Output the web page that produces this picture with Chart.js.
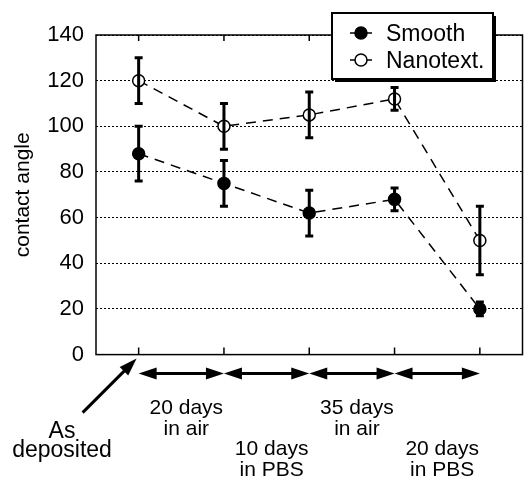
<!DOCTYPE html>
<html>
<head>
<meta charset="utf-8">
<script src="https://cdn.jsdelivr.net/npm/chart.js@4/dist/chart.umd.min.js"></script>
<style>
  html, body { margin: 0; padding: 0; background: #fff; }
  #wrap { width: 525px; height: 479px; }
</style>
</head>
<body>
<div id="wrap"><canvas id="chart" width="525" height="479"></canvas></div>
<script>
// stages along the x axis (0 = as deposited)
const stages = [0, 1, 2, 3, 4];
const startLabel = ['As', 'deposited'];
const intervalLabels = [
  ['20 days', 'in air'],
  ['10 days', 'in PBS'],
  ['35 days', 'in air'],
  ['20 days', 'in PBS']
];

const smooth = [88, 75, 62, 68, 20];
const smoothErr = [12, 10, 10, 5, 3];
const nano = [120, 100, 105, 112, 50];
const nanoErr = [10, 10, 10, 5, 15];

const yMin = 0, yMax = 140, yStep = 20;

const FONT = 'Arial, "Liberation Sans", Helvetica, sans-serif';

const toPoints = vals => vals.map((v, i) => ({ x: stages[i], y: v }));

const decor = {
  id: 'decor',
  afterDatasetsDraw(chart) {
    const ctx = chart.ctx;
    const xs = chart.scales.x, ys = chart.scales.y;
    const errs = [smoothErr, nanoErr];
    ctx.save();
    ctx.strokeStyle = '#000';
    ctx.lineWidth = 3;
    chart.data.datasets.forEach((ds, d) => {
      ds.data.forEach((p, i) => {
        const x = xs.getPixelForValue(p.x);
        const yt = ys.getPixelForValue(p.y + errs[d][i]);
        const yb = ys.getPixelForValue(p.y - errs[d][i]);
        ctx.beginPath();
        ctx.moveTo(x, yt); ctx.lineTo(x, yb);
        ctx.moveTo(x - 4, yt); ctx.lineTo(x + 4, yt);
        ctx.moveTo(x - 4, yb); ctx.lineTo(x + 4, yb);
        ctx.stroke();
      });
    });
    ctx.restore();
  },
  afterDraw(chart) {
    const ctx = chart.ctx;
    const a = chart.chartArea;
    const xs = chart.scales.x;
    ctx.save();
    ctx.strokeStyle = '#000';
    ctx.fillStyle = '#000';

    // frame
    ctx.lineWidth = 1.5;
    ctx.strokeRect(a.left, a.top, a.right - a.left, a.bottom - a.top);
    // x tick marks, inward at top and bottom
    stages.forEach(s => {
      const x = xs.getPixelForValue(s);
      ctx.beginPath();
      ctx.moveTo(x, a.top); ctx.lineTo(x, a.top + 6);
      ctx.moveTo(x, a.bottom); ctx.lineTo(x, a.bottom - 7);
      ctx.stroke();
    });

    // legend box with shadow
    const lx = 332, ly = 13, lw = 161, lh = 66;
    ctx.fillStyle = '#000';
    ctx.fillRect(lx + 3, ly + 3, lw, lh);
    ctx.fillStyle = '#fff';
    ctx.fillRect(lx, ly, lw, lh);
    ctx.lineWidth = 2;
    ctx.strokeRect(lx, ly, lw, lh);
    ctx.font = '23px ' + FONT;
    ctx.textAlign = 'left';
    ctx.textBaseline = 'alphabetic';
    chart.data.datasets.forEach((ds, d) => {
      const cy = 33 + d * 27;
      ctx.lineWidth = 1.5;
      ctx.strokeStyle = '#000';
      ctx.beginPath();
      ctx.moveTo(350, cy); ctx.lineTo(372, cy);
      ctx.stroke();
      ctx.beginPath();
      ctx.arc(361, cy, 6, 0, Math.PI * 2);
      ctx.fillStyle = ds.backgroundColor;
      ctx.fill();
      ctx.stroke();
      ctx.fillStyle = '#000';
      ctx.fillText(ds.label, 386, cy + 8);
    });

    // interval arrows under the axis
    const ay = a.bottom + 19;
    const arrowHead = (tipX, tipY, dx, dy) => {
      const len = Math.hypot(dx, dy), ux = dx / len, uy = dy / len;
      const bx = tipX - ux * 18, by = tipY - uy * 18;
      ctx.beginPath();
      ctx.moveTo(tipX, tipY);
      ctx.lineTo(bx - uy * 6, by + ux * 6);
      ctx.lineTo(bx + uy * 6, by - ux * 6);
      ctx.closePath();
      ctx.fill();
    };
    ctx.fillStyle = '#000';
    ctx.lineWidth = 3;
    ctx.font = '21px ' + FONT;
    ctx.textAlign = 'center';
    intervalLabels.forEach((lines, i) => {
      const x1 = xs.getPixelForValue(stages[i]);
      const x2 = xs.getPixelForValue(stages[i + 1]);
      ctx.beginPath();
      ctx.moveTo(x1 + 10, ay); ctx.lineTo(x2 - 10, ay);
      ctx.stroke();
      arrowHead(x1, ay, -1, 0);
      arrowHead(x2, ay, 1, 0);
      const cx = (x1 + x2) / 2 + 5;
      const base = i % 2 === 0 ? a.bottom + 59 : a.bottom + 100;
      ctx.fillText(lines[0], cx, base);
      ctx.fillText(lines[1], cx, base + 21);
    });

    // "As deposited" pointer
    const x0 = xs.getPixelForValue(stages[0]);
    const tipX = x0 - 2, tipY = a.bottom + 4;
    const sx = x0 - 56, sy = a.bottom + 58;
    ctx.beginPath();
    ctx.moveTo(sx, sy); ctx.lineTo(tipX - 8, tipY + 8);
    ctx.stroke();
    arrowHead(tipX, tipY, tipX - sx, tipY - sy);
    ctx.font = '23px ' + FONT;
    ctx.fillText(startLabel[0], 62, a.bottom + 83);
    ctx.fillText(startLabel[1], 62, a.bottom + 102);

    ctx.restore();
  }
};

new Chart(document.getElementById('chart'), {
  type: 'line',
  data: {
    datasets: [
      {
        label: 'Smooth',
        data: toPoints(smooth),
        borderColor: '#000',
        backgroundColor: '#000',
        borderWidth: 1.5,
        borderDash: [10, 7],
        pointRadius: 6,
        pointBorderWidth: 1.5,
        pointBackgroundColor: '#000',
        pointBorderColor: '#000',
        tension: 0
      },
      {
        label: 'Nanotext.',
        data: toPoints(nano),
        borderColor: '#000',
        backgroundColor: '#fff',
        borderWidth: 1.5,
        borderDash: [10, 7],
        pointRadius: 6,
        pointBorderWidth: 1.5,
        pointBackgroundColor: '#fff',
        pointBorderColor: '#000',
        tension: 0
      }
    ]
  },
  options: {
    responsive: false,
    animation: false,
    events: [],
    layout: { autoPadding: false, padding: { top: 35, right: 2.5, left: 0, bottom: 0 } },
    plugins: {
      legend: { display: false },
      tooltip: { enabled: false }
    },
    scales: {
      x: {
        type: 'linear',
        min: -0.5,
        max: 4.5,
        ticks: { display: false },
        grid: { display: false },
        border: { display: false },
        afterFit: s => { s.height = 124.4; }
      },
      y: {
        min: yMin,
        max: yMax,
        ticks: {
          stepSize: yStep,
          color: '#000',
          padding: 12,
          font: { size: 22, family: FONT }
        },
        grid: { color: '#000', lineWidth: 1, drawTicks: false },
        border: { display: false, dash: [2, 2] },
        title: {
          display: true,
          text: 'contact angle',
          color: '#000',
          font: { size: 21, family: FONT },
          padding: { top: 11, bottom: 0 }
        },
        afterFit: s => { s.width = 96; }
      }
    }
  },
  plugins: [decor]
});
</script>
</body>
</html>
